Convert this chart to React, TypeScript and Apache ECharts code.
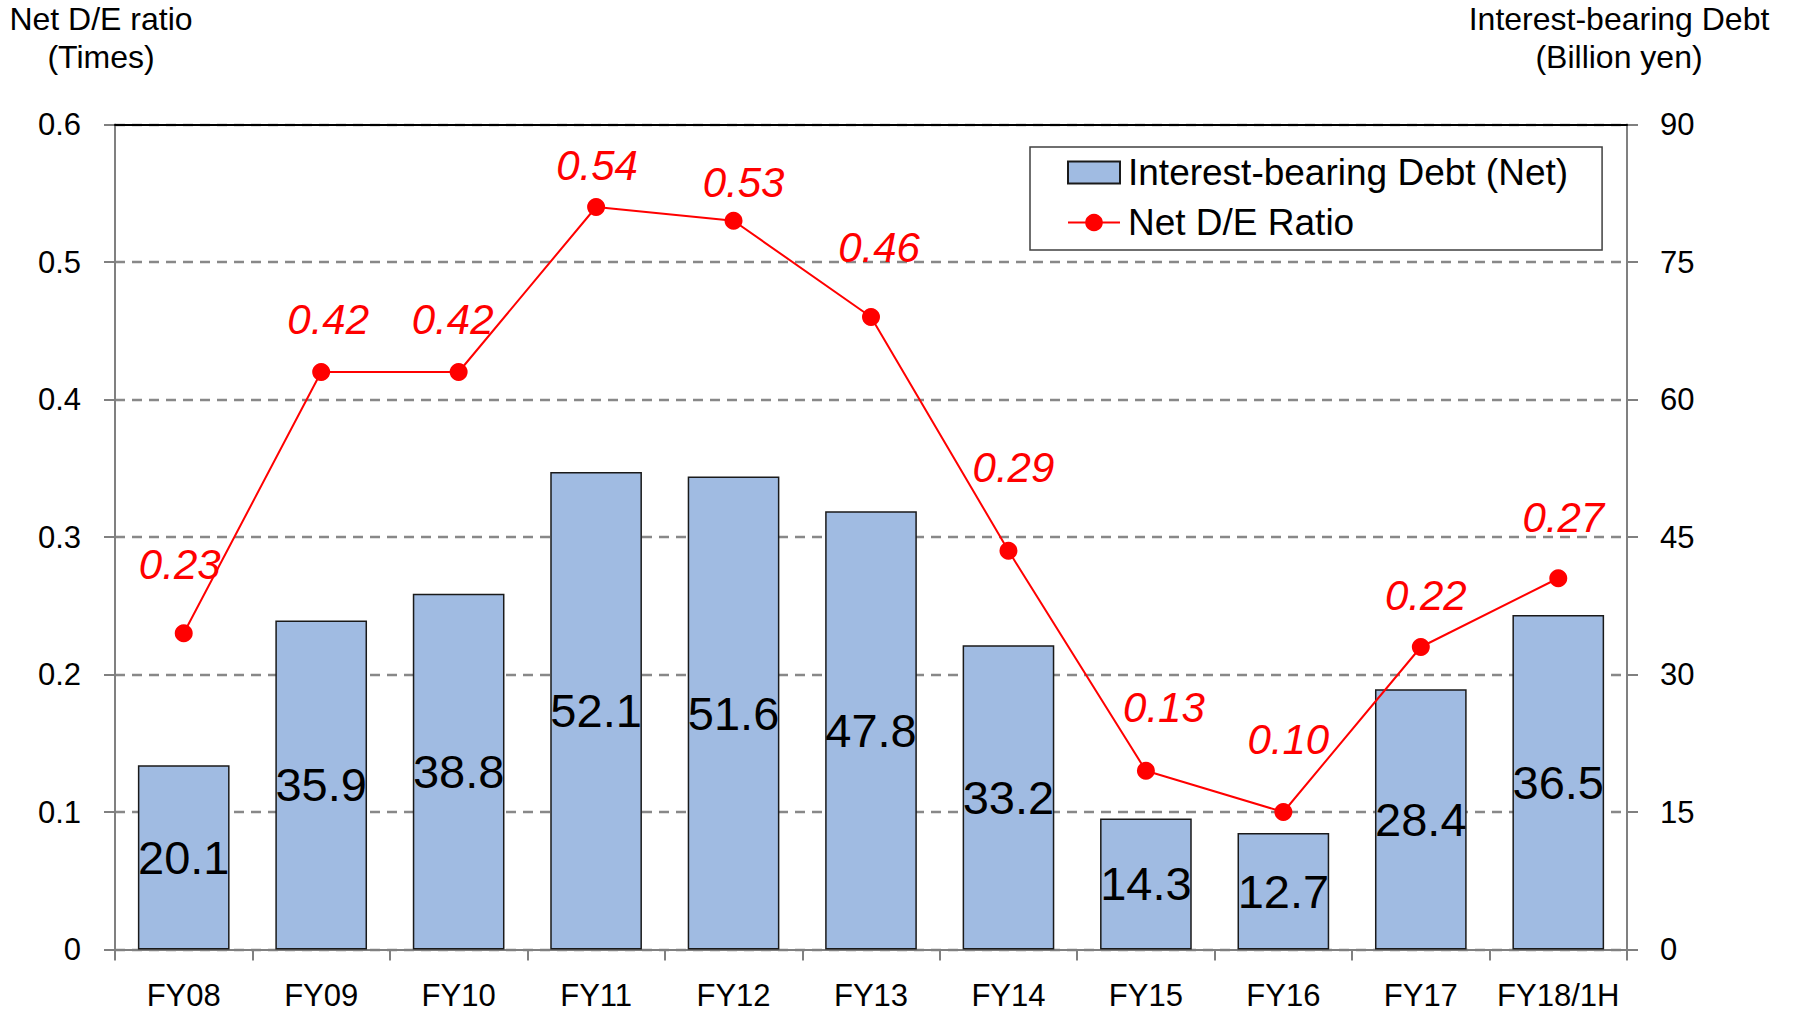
import React, { useEffect, useRef } from "react";
import * as echarts from "echarts";

const categories = ["FY08", "FY09", "FY10", "FY11", "FY12", "FY13", "FY14", "FY15", "FY16", "FY17", "FY18/1H"];
const debtValues = [20.1, 35.9, 38.8, 52.1, 51.6, 47.8, 33.2, 14.3, 12.7, 28.4, 36.5];
const ratioValues = [0.23, 0.42, 0.42, 0.54, 0.53, 0.46, 0.29, 0.13, 0.10, 0.22, 0.27];
const ratioLabelOffsets: [number, number][] = [
  [-4, -69], [7, -53], [-6, -53], [1, -42], [10, -38], [8, -70],
  [5, -83], [18, -63], [5, -73], [5, -52], [5, -61],
];

const FONT = "'Liberation Sans', Arial, sans-serif";

export default function App() {
  const ref = useRef<HTMLDivElement>(null);
  useEffect(() => {
    if (!ref.current) return;
    const chart = echarts.init(ref.current, undefined, { renderer: "svg" });
    chart.setOption({
      animation: false,
      backgroundColor: "#ffffff",
      textStyle: { fontFamily: FONT },
      grid: { left: 115, right: 166, top: 124.5, bottom: 62.5 },
      legend: {
        orient: "vertical",
        left: 1030,
        top: 147,
        padding: [7, 34, 9, 37],
        itemGap: 13,
        itemWidth: 52,
        itemHeight: 22,
        borderColor: "#404040",
        borderWidth: 1.5,
        textStyle: { fontSize: 37, color: "#000", fontFamily: FONT, padding: [0, 0, 0, 3] },
        data: [
          { name: "Interest-bearing Debt (Net)", icon: "rect" },
          { name: "Net D/E Ratio" },
        ],
      },
      graphic: [
        {
          type: "text",
          x: 101,
          y: 38,
          style: {
            text: "Net D/E ratio\n(Times)",
            fontSize: 32,
            fontFamily: FONT,
            fill: "#000",
            textAlign: "center",
            textVerticalAlign: "middle",
            lineHeight: 38,
          },
        },
        {
          type: "text",
          x: 1619,
          y: 38,
          style: {
            text: "Interest-bearing Debt\n(Billion yen)",
            fontSize: 32,
            fontFamily: FONT,
            fill: "#000",
            textAlign: "center",
            textVerticalAlign: "middle",
            lineHeight: 38,
          },
        },
      ],
      xAxis: [
        {
          type: "category",
          data: categories,
          boundaryGap: true,
          axisLine: { lineStyle: { color: "#808080", width: 2 } },
          axisTick: { show: true, length: 11, lineStyle: { color: "#808080", width: 2 } },
          axisLabel: { fontSize: 31, color: "#000", margin: 30, interval: 0, fontFamily: FONT },
          splitLine: { show: false },
        },
        {
          type: "category",
          data: categories,
          position: "top",
          z: 10,
          axisLine: { show: true, onZero: false, lineStyle: { color: "#000", width: 2.2 } },
          axisTick: { show: false },
          axisLabel: { show: false },
          splitLine: { show: false },
        },
      ],
      yAxis: [
        {
          type: "value",
          min: 0,
          max: 0.6,
          interval: 0.1,
          axisLine: { show: true, lineStyle: { color: "#808080", width: 2 } },
          axisTick: { show: true, length: 11, lineStyle: { color: "#808080", width: 2 } },
          axisLabel: {
            fontSize: 31,
            color: "#000",
            margin: 34,
            fontFamily: FONT,
            formatter: (v: number) => (v === 0 ? "0" : v.toFixed(1)),
          },
          splitLine: { show: true, lineStyle: { color: "#888888", width: 2.4, type: [10, 7] } },
        },
        {
          type: "value",
          min: 0,
          max: 90,
          interval: 15,
          position: "right",
          axisLine: { show: true, lineStyle: { color: "#808080", width: 2 } },
          axisTick: { show: true, length: 11, lineStyle: { color: "#808080", width: 2 } },
          axisLabel: { fontSize: 31, color: "#000", margin: 33, fontFamily: FONT },
          splitLine: { show: false },
        },
      ],
      series: [
        {
          name: "Interest-bearing Debt (Net)",
          type: "bar",
          yAxisIndex: 1,
          barWidth: "66.7%",
          data: debtValues,
          itemStyle: { color: "#A0BBE2", borderColor: "#1a1a1a", borderWidth: 1.5 },
          label: {
            show: true,
            position: "inside",
            fontSize: 47,
            color: "#000",
            fontFamily: FONT,
            formatter: (p: any) => p.value.toFixed(1),
          },
        },
        {
          name: "Net D/E Ratio",
          type: "line",
          yAxisIndex: 0,
          symbol: "circle",
          symbolSize: 18,
          itemStyle: { color: "#FF0000" },
          lineStyle: { color: "#FF0000", width: 2 },
          data: ratioValues.map((v, i) => ({ value: v, label: { offset: ratioLabelOffsets[i] } })),
          label: {
            show: true,
            position: "inside",
            fontSize: 42,
            fontStyle: "italic",
            color: "#FF0000",
            fontFamily: FONT,
            formatter: (p: any) => p.value.toFixed(2),
          },
        },
      ],
    });
    return () => chart.dispose();
  }, []);
  return (
    <div
      ref={ref}
      style={{ position: "fixed", left: 0, top: 0, width: 1793, height: 1012, background: "#fff" }}
    />
  );
}
